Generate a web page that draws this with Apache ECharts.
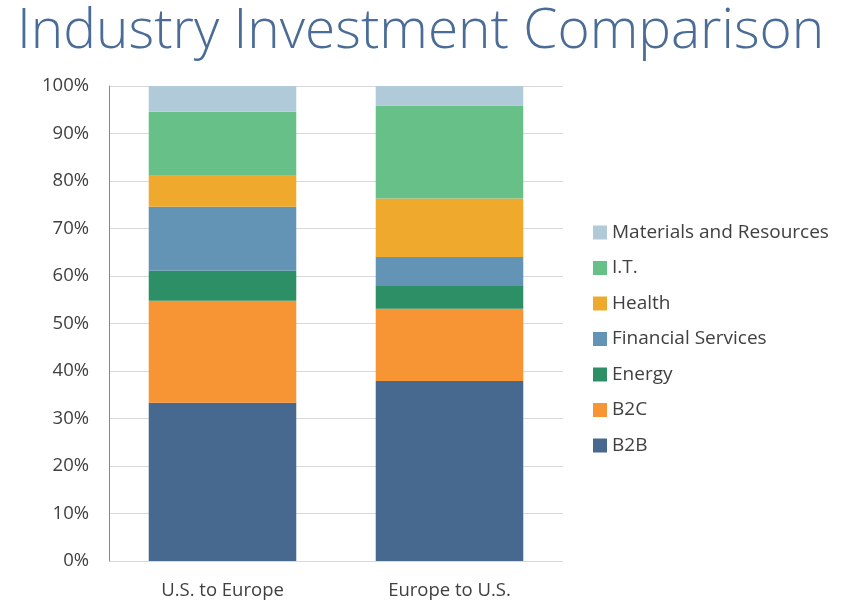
<!DOCTYPE html>
<html>
<head>
<meta charset="utf-8">
<script src="https://cdn.jsdelivr.net/npm/echarts@6/dist/echarts.min.js"></script>
<style>
html, body { margin: 0; padding: 0; background: #fff; }
#chart { width: 847px; height: 608px; }
</style>
</head>
<body>
<div id="chart"></div>
<script>
// 两个方向的行业投资占比（百分比，堆叠到100%）
var categories = ['U.S. to Europe', 'Europe to U.S.'];
var seriesNames = ['B2B', 'B2C', 'Energy', 'Financial Services', 'Health', 'I.T.', 'Materials and Resources'];
var b2b = [33.3, 37.9];
var b2c = [21.5, 15.2];
var energy = [6.3, 4.8];
var financial = [13.5, 6.1];
var health = [6.5, 12.3];
var it = [13.5, 19.6];
var materials = [5.4, 4.1];
var colors = ['#47688F', '#F79433', '#2C8F66', '#6394B5', '#EFAA2D', '#66C087', '#B1CADA'];

var allValues = [b2b, b2c, energy, financial, health, it, materials];

var myChart = echarts.init(document.getElementById('chart'));

var series = [];
for (var i = 0; i < seriesNames.length; i++) {
	series.push({
		name : seriesNames[i],
		type : 'bar',
		stack : 'total',
		barWidth : '65%',
		itemStyle : { color : colors[i] },
		data : allValues[i]
	});
}

var option = {
	animation : false,
	title : {
		text : 'Industry Investment Comparison',
		left : 12,
		top : 0,
		textStyle : {
			fontFamily : 'Open Sans',
			fontWeight : 300,
			fontSize : 55,
			color : '#4A6C96'
		}
	},
	legend : {
		orient : 'vertical',
		left : 588,
		top : 218,
		itemGap : 16.5,
		itemWidth : 14,
		itemHeight : 14,
		icon : 'rect',
		textStyle : { fontFamily : 'Open Sans', fontSize : 19, color : '#404040' },
		data : seriesNames.slice().reverse()
	},
	grid : { left : 109, right : 284, top : 86, bottom : 47 },
	xAxis : {
		type : 'category',
		data : categories,
		axisLine : { show : false },
		axisTick : { show : false },
		axisLabel : { fontFamily : 'Open Sans', fontSize : 18.5, color : '#404040', margin : 20 }
	},
	yAxis : {
		type : 'value',
		min : 0,
		max : 100,
		interval : 10,
		axisLine : { show : true, lineStyle : { color : '#888' } },
		axisTick : { show : false },
		splitLine : { lineStyle : { color : '#D9D9D9' } },
		axisLabel : { fontFamily : 'Open Sans', fontSize : 18.5, color : '#404040', formatter : '{value}%', margin : 20 }
	},
	series : series
};

myChart.setOption(option);
</script>
</body>
</html>
